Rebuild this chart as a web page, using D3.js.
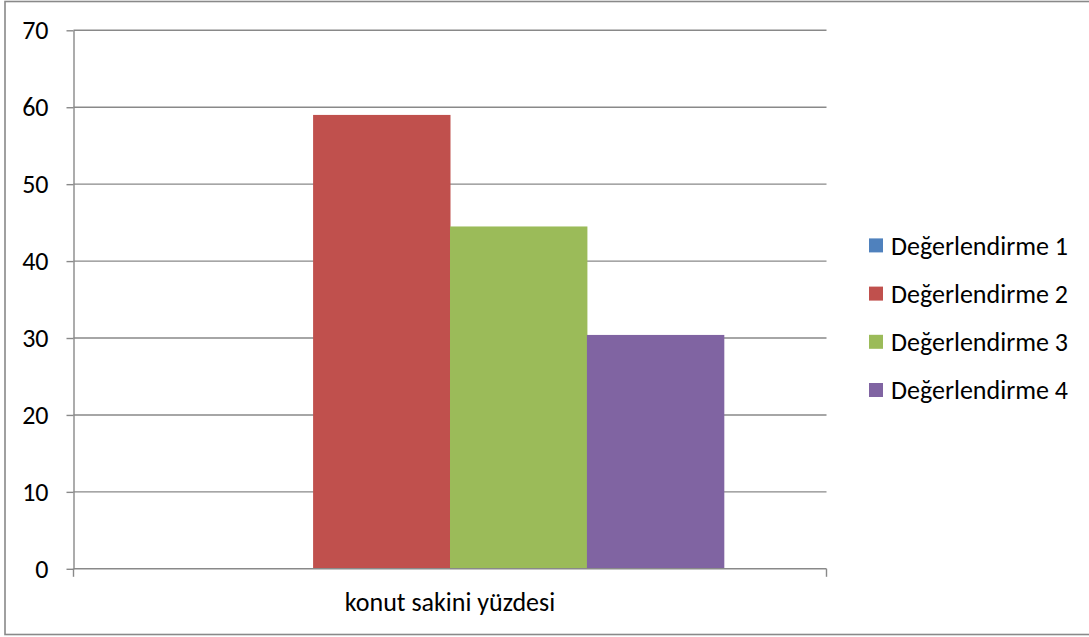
<!DOCTYPE html>
<html><head><meta charset="utf-8">
<script src="https://cdn.jsdelivr.net/npm/d3@7"></script>
<style>html,body{margin:0;padding:0;background:#fff;}svg{display:block;}</style>
</head><body>
<svg id="chart" width="1089" height="637"></svg>
<script>
const categories = ["konut sakini yüzdesi"];
const seriesNames = ["Değerlendirme 1", "Değerlendirme 2", "Değerlendirme 3", "Değerlendirme 4"];
const seriesValues = [0, 59, 44.5, 30.4];
const seriesColors = ["#4f81bd", "#c0504d", "#9bbb59", "#8064a2"];
const yTicks = [0, 10, 20, 30, 40, 50, 60, 70];

(function () {
const svg = d3.select("#chart");
const font = "Carlito, Calibri, 'Open Sans', sans-serif";
const fs = 26;
const gridColor = "#898989";

// outer border
svg.append("rect").attr("x", 5).attr("y", 1.5).attr("width", 1100).attr("height", 633)
  .attr("fill", "none").attr("stroke", gridColor).attr("stroke-width", 1.6);

const pL = 73.5, pR = 826.5, pT = 30.3, pB = 568.8;
const y = d3.scaleLinear().domain([0, 70]).range([pB, pT]);
const x0 = d3.scaleBand().domain(categories).range([pL, pR]).paddingInner(0).paddingOuter(0.1875);
const x1 = d3.scaleBand().domain(seriesNames).range([0, x0.bandwidth()]).padding(0);

// gridlines
svg.append("g").selectAll("line").data(yTicks.filter(d => d > 0)).join("line")
  .attr("x1", pL).attr("x2", pR)
  .attr("y1", d => y(d)).attr("y2", d => y(d))
  .attr("stroke", gridColor).attr("stroke-width", 1.4);

// bars
const g = svg.append("g");
categories.forEach(cat => {
  g.selectAll("rect.b").data(seriesNames.map((s, i) => ({s, v: seriesValues[i], c: seriesColors[i]})))
    .join("rect")
    .attr("x", d => x0(cat) + x1(d.s))
    .attr("width", x1.bandwidth() + 0.5)
    .attr("y", d => y(d.v))
    .attr("height", d => y(0) - y(d.v))
    .attr("fill", d => d.c);
});

// y axis
const yAxis = svg.append("g").attr("transform", `translate(${pL},0)`)
  .call(d3.axisLeft(y).tickValues(yTicks).tickSize(7).tickPadding(18).tickSizeOuter(0));
yAxis.select(".domain").attr("stroke", gridColor).attr("stroke-width", 1.4);
yAxis.selectAll(".tick line").attr("stroke", gridColor).attr("stroke-width", 1.4);
yAxis.selectAll(".tick text").attr("font-family", font).attr("font-size", fs).attr("fill", "#000");

// x axis
const xAxis = svg.append("g").attr("transform", `translate(0,${pB})`)
  .call(d3.axisBottom(x0).tickSize(0).tickSizeOuter(0).tickPadding(24));
xAxis.select(".domain").remove();
xAxis.append("line").attr("x1", pL).attr("x2", pR).attr("y1", 0).attr("y2", 0)
  .attr("stroke", gridColor).attr("stroke-width", 1.4);
xAxis.selectAll(".edge").data([pL, pR]).join("line")
  .attr("x1", d => d).attr("x2", d => d).attr("y1", 0).attr("y2", 8)
  .attr("stroke", gridColor).attr("stroke-width", 1.4);
xAxis.selectAll(".tick text").attr("font-family", font).attr("font-size", fs).attr("fill", "#000");

// legend
const legend = svg.append("g");
const rowY = d3.scalePoint().domain(seriesNames).range([245.4, 390]);
seriesNames.forEach((s, i) => {
  legend.append("rect").attr("x", 869).attr("y", rowY(s) - 7).attr("width", 14).attr("height", 14)
    .attr("fill", seriesColors[i]);
  legend.append("text").attr("x", 891).attr("y", rowY(s)).attr("dy", "0.35em")
    .attr("font-family", font).attr("font-size", fs).attr("fill", "#000").text(s);
});
})();
</script>
</body></html>
